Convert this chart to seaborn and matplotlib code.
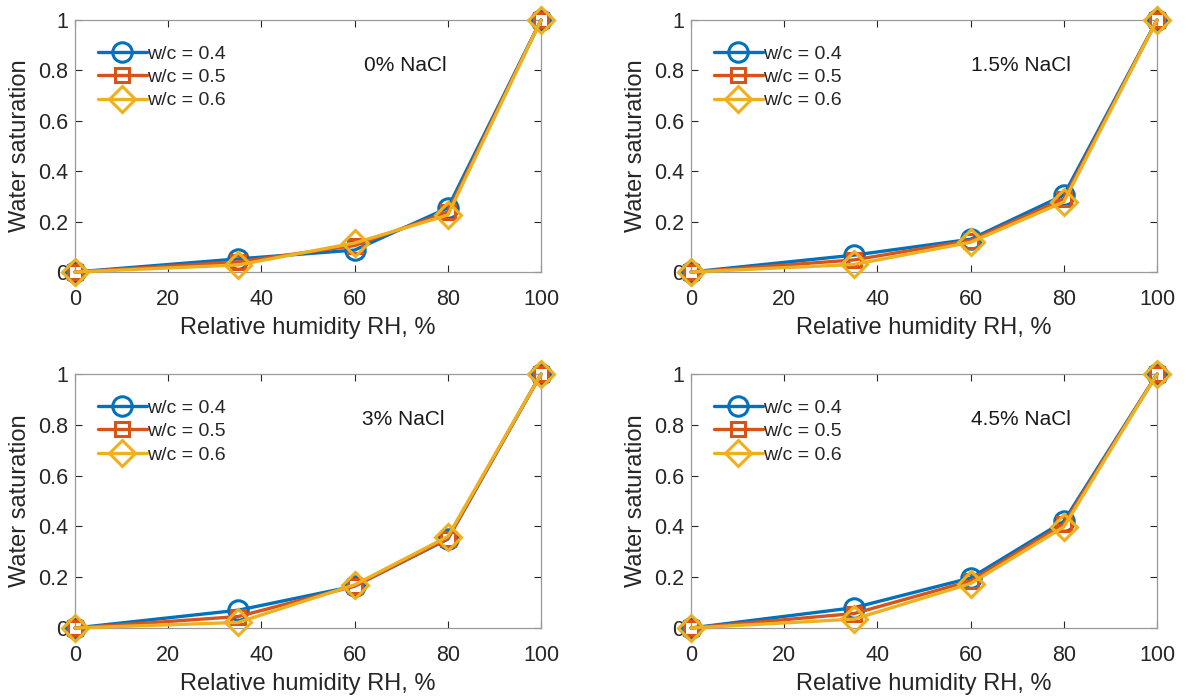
import numpy as np
import pandas as pd
import seaborn as sns
import matplotlib
matplotlib.use("Agg")
import matplotlib.pyplot as plt

sns.set_theme(style="white")
plt.rcParams['font.family'] = ['Liberation Sans', 'DejaVu Sans']

rh = [0, 35, 60, 80, 100]
series_labels = ["w/c = 0.4", "w/c = 0.5", "w/c = 0.6"]
panel_titles = ["0% NaCl", "1.5% NaCl", "3% NaCl", "4.5% NaCl"]

nacl0_wc04 = [0, 0.052, 0.087, 0.254, 1]
nacl0_wc05 = [0, 0.040, 0.105, 0.238, 1]
nacl0_wc06 = [0, 0.028, 0.115, 0.226, 1]

nacl15_wc04 = [0, 0.067, 0.130, 0.305, 1]
nacl15_wc05 = [0, 0.048, 0.125, 0.290, 1]
nacl15_wc06 = [0, 0.030, 0.118, 0.278, 1]

nacl3_wc04 = [0, 0.070, 0.165, 0.350, 1]
nacl3_wc05 = [0, 0.045, 0.165, 0.352, 1]
nacl3_wc06 = [0, 0.022, 0.170, 0.360, 1]

nacl45_wc04 = [0, 0.080, 0.197, 0.420, 1]
nacl45_wc05 = [0, 0.057, 0.185, 0.410, 1]
nacl45_wc06 = [0, 0.035, 0.175, 0.398, 1]

panels = [
    [nacl0_wc04, nacl0_wc05, nacl0_wc06],
    [nacl15_wc04, nacl15_wc05, nacl15_wc06],
    [nacl3_wc04, nacl3_wc05, nacl3_wc06],
    [nacl45_wc04, nacl45_wc05, nacl45_wc06],
]

colors = ["#0072BD", "#D95319", "#EDB120"]
markers = ["o", "s", "D"]
msizes = [14, 10, 13]

fig = plt.figure(figsize=(11.85, 6.96), dpi=100)
W, H = 1185, 696
boxes = [(75, 20, 541, 272), (691, 20, 1157, 272),
         (75, 374, 541, 628), (691, 374, 1157, 628)]
text_x = [62, 60, 61.5, 60]

for i, (l, t, r, b) in enumerate(boxes):
    ax = fig.add_axes([l / W, 1 - b / H, (r - l) / W, (b - t) / H])
    for j in range(3):
        df = pd.DataFrame({"RH": rh, "S": panels[i][j]})
        sns.lineplot(data=df, x="RH", y="S", ax=ax, color=colors[j],
                     marker=markers[j], markersize=msizes[j],
                     markerfacecolor="none", markeredgecolor=colors[j],
                     markeredgewidth=2.2, linewidth=2.4, clip_on=False,
                     label=series_labels[j], zorder=3 + j)
    ax.set_xlim(0, 100)
    ax.set_ylim(0, 1)
    ax.set_xticks([0, 20, 40, 60, 80, 100])
    ax.set_yticks([0, 0.2, 0.4, 0.6, 0.8, 1])
    ax.set_yticklabels(["0", "0.2", "0.4", "0.6", "0.8", "1"])
    ax.tick_params(direction="in", length=5, width=0.8, colors="#262626",
                   labelsize=15.5, top=True, right=True, bottom=True, left=True)
    ax.tick_params(axis="x", pad=12)
    ax.tick_params(axis="y", pad=5)
    for sp in ax.spines.values():
        sp.set_color("#999999")
        sp.set_linewidth(0.9)
    ax.set_xlabel("Relative humidity RH, %", fontsize=17, color="#262626", labelpad=5)
    ax.set_ylabel("Water saturation", fontsize=17, color="#262626", labelpad=5)
    ax.text(text_x[i], 0.82, panel_titles[i], fontsize=15, color="#1a1a1a",
            ha="left", va="center")
    leg = ax.legend(loc="upper left", frameon=False, fontsize=14,
                    handlelength=2.5, handletextpad=0.05, labelspacing=0.3,
                    borderaxespad=0.3, bbox_to_anchor=(0.02, 0.955))
    ax.grid(False)
    ax.set_facecolor("white")

fig.savefig("out.png", dpi=100, facecolor="white")
